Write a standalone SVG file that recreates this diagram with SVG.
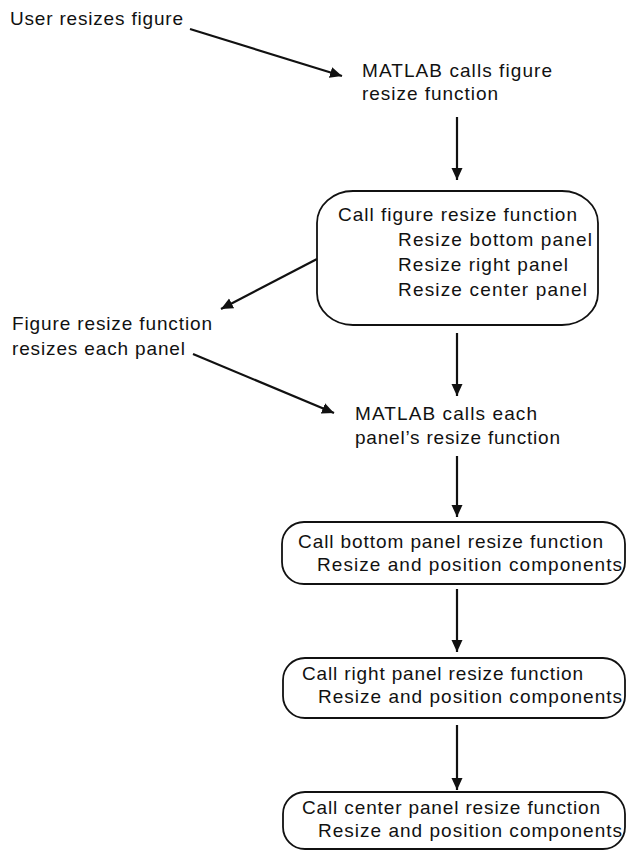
<svg xmlns="http://www.w3.org/2000/svg" width="627" height="852" viewBox="0 0 627 852">
<style>
  text { font-family: "Liberation Sans", Arial, sans-serif; font-size: 19px; fill: #111; }
  .box { fill: #fff; stroke: #111; stroke-width: 1.8; }
  .conn { stroke: #111; stroke-width: 2.2; fill: none; marker-end: url(#ah); }
</style>
<defs>
  <marker id="ah" markerUnits="userSpaceOnUse" markerWidth="14" markerHeight="12" refX="12" refY="5.5" orient="auto">
    <path d="M0,0 L12,5.5 L0,11 Z" fill="#111"/>
  </marker>
</defs>
<rect width="627" height="852" fill="#fff"/>
<g id="connectors">
  <path class="conn" d="M190,29 L342,76"/>
  <path class="conn" d="M457,117 L457,180"/>
  <path class="conn" d="M317,259 L221,309"/>
  <path class="conn" d="M193,354 L334,413"/>
  <path class="conn" d="M457,333 L457,396"/>
  <path class="conn" d="M457,456 L457,517"/>
  <path class="conn" d="M457,589 L457,652"/>
  <path class="conn" d="M457,725 L457,790"/>
</g>
<g id="user-resizes">
  <text x="10" y="25" textLength="173" lengthAdjust="spacing">User resizes figure</text>
</g>
<g id="matlab-calls-figure">
  <text x="362" y="77" textLength="190" lengthAdjust="spacing">MATLAB calls figure</text>
  <text x="362" y="100" textLength="136" lengthAdjust="spacing">resize function</text>
</g>
<g id="figure-resize-box">
  <rect class="box" x="317" y="191" width="281" height="134" rx="36" ry="32"/>
  <text x="338" y="221" textLength="239" lengthAdjust="spacing">Call figure resize function</text>
  <text x="398" y="246" textLength="194" lengthAdjust="spacing">Resize bottom panel</text>
  <text x="398" y="271" textLength="170" lengthAdjust="spacing">Resize right panel</text>
  <text x="398" y="296" textLength="189" lengthAdjust="spacing">Resize center panel</text>
</g>
<g id="figure-resize-note">
  <text x="12" y="330" textLength="200" lengthAdjust="spacing">Figure resize function</text>
  <text x="12" y="355" textLength="173" lengthAdjust="spacing">resizes each panel</text>
</g>
<g id="matlab-calls-each">
  <text x="355" y="420" textLength="182" lengthAdjust="spacing">MATLAB calls each</text>
  <text x="355" y="444" textLength="205" lengthAdjust="spacing">panel’s resize function</text>
</g>
<g id="bottom-panel-box">
  <rect class="box" x="282" y="522" width="343" height="62" rx="22" ry="22"/>
  <text x="298" y="548" textLength="305" lengthAdjust="spacing">Call bottom panel resize function</text>
  <text x="317" y="571" textLength="305" lengthAdjust="spacing">Resize and position components</text>
</g>
<g id="right-panel-box">
  <rect class="box" x="283" y="658" width="342" height="60" rx="22" ry="22"/>
  <text x="302" y="680" textLength="281" lengthAdjust="spacing">Call right panel resize function</text>
  <text x="318" y="703" textLength="304" lengthAdjust="spacing">Resize and position components</text>
</g>
<g id="center-panel-box">
  <rect class="box" x="283" y="792" width="342" height="57" rx="22" ry="22"/>
  <text x="302" y="814" textLength="298" lengthAdjust="spacing">Call center panel resize function</text>
  <text x="318" y="837" textLength="304" lengthAdjust="spacing">Resize and position components</text>
</g>
</svg>
